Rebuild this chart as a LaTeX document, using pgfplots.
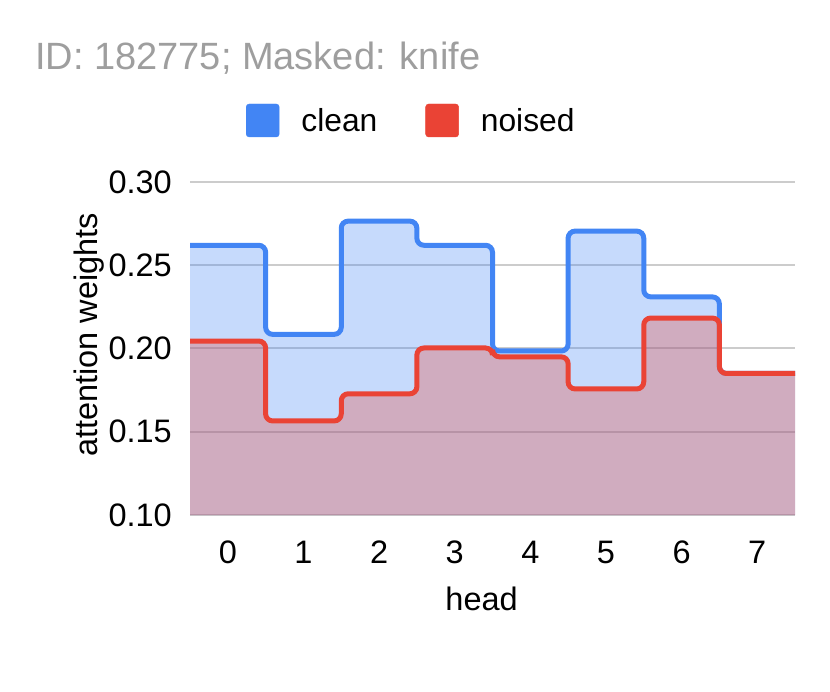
\documentclass[border=0pt]{standalone}
\usepackage{fontspec}
\setmainfont{Liberation Sans}
\usepackage{pgfplots}
\pgfplotsset{compat=1.18}
\definecolor{cblue}{HTML}{4285F4}
\definecolor{cred}{HTML}{EA4335}
\definecolor{ttl}{HTML}{9E9E9E}
\definecolor{gridc}{HTML}{CCCCCC}
\pgfplotstableread{
x y
-0.5 0.262
0.5 0.2085
1.5 0.2765
2.5 0.262
3.5 0.1985
4.5 0.2705
5.5 0.231
6.5 0.185
8.0 0.185
}\clean
\pgfplotstableread{
x y
-0.5 0.2045
0.5 0.1565
1.5 0.1728
2.5 0.2003
3.5 0.1950
4.5 0.1757
5.5 0.2183
6.5 0.1850
8.0 0.1850
}\noised
\begin{document}
\begin{tikzpicture}
\useasboundingbox (0,0) rectangle (830pt,691pt);
\node[anchor=base west, text=ttl, font=\fontsize{38}{44}\selectfont, inner sep=0] at (35pt,621pt) {ID: 182775; Masked: knife};
\begin{axis}[
  at={(190pt,176pt)}, anchor=south west, scale only axis,
  width=605pt, height=333pt,
  xmin=-0.5, xmax=7.5, ymin=0.10, ymax=0.30,
  xtick={0,1,2,3,4,5,6,7},
  ytick={0.10,0.15,0.20,0.25,0.30},
  yticklabel style={/pgf/number format/fixed, /pgf/number format/fixed zerofill, /pgf/number format/precision=2},
  /pgf/number format/assume math mode=true,
  tick label style={font=\fontsize{32.5}{38}\selectfont, inner sep=0pt},
  yticklabel style={anchor=east, xshift=-18pt},
  xticklabel style={anchor=north, yshift=-26pt},
  major tick length=0pt,
  axis line style={draw=none},
  ymajorgrids, grid style={gridc, line width=2pt},
  xlabel={head}, ylabel={attention weights},
  label style={font=\fontsize{32.5}{38}\selectfont, inner sep=0pt},
  xlabel style={at={(axis description cs:0.482,0)}, anchor=base, yshift=-95pt},
  ylabel style={at={(axis description cs:-0.1537,0.5405)}, anchor=base},
  legend style={at={(axis description cs:0.0926,1.1847)}, anchor=west, draw=none, fill=none,
    inner sep=0pt, outer sep=0pt, font=\fontsize{31.8}{38}\selectfont,
    nodes={inner sep=0pt},
    /tikz/every odd column/.append style={column sep=22pt},
    /tikz/every even column/.append style={column sep=48pt}},
  legend columns=2,
  clip=true,
]
\addlegendimage{legend image code/.code={\fill[cblue, rounded corners=3pt] (0pt,-16.5pt) rectangle (33pt,16.5pt);}}
\addlegendentry{clean}
\addlegendimage{legend image code/.code={\fill[cred, rounded corners=3pt] (0pt,-16.5pt) rectangle (33pt,16.5pt);}}
\addlegendentry{noised}
\addplot[const plot mark left, draw=none, fill=cblue, fill opacity=0.3, forget plot] table {\clean} \closedcycle;
\addplot[const plot mark left, cblue, line width=5pt, rounded corners=7pt, forget plot] table {\clean};
\addplot[const plot mark left, draw=none, fill=cred, fill opacity=0.3, forget plot] table {\noised} \closedcycle;
\addplot[const plot mark left, cred, line width=5pt, rounded corners=7pt, forget plot] table {\noised};
\end{axis}
\end{tikzpicture}
\end{document}
